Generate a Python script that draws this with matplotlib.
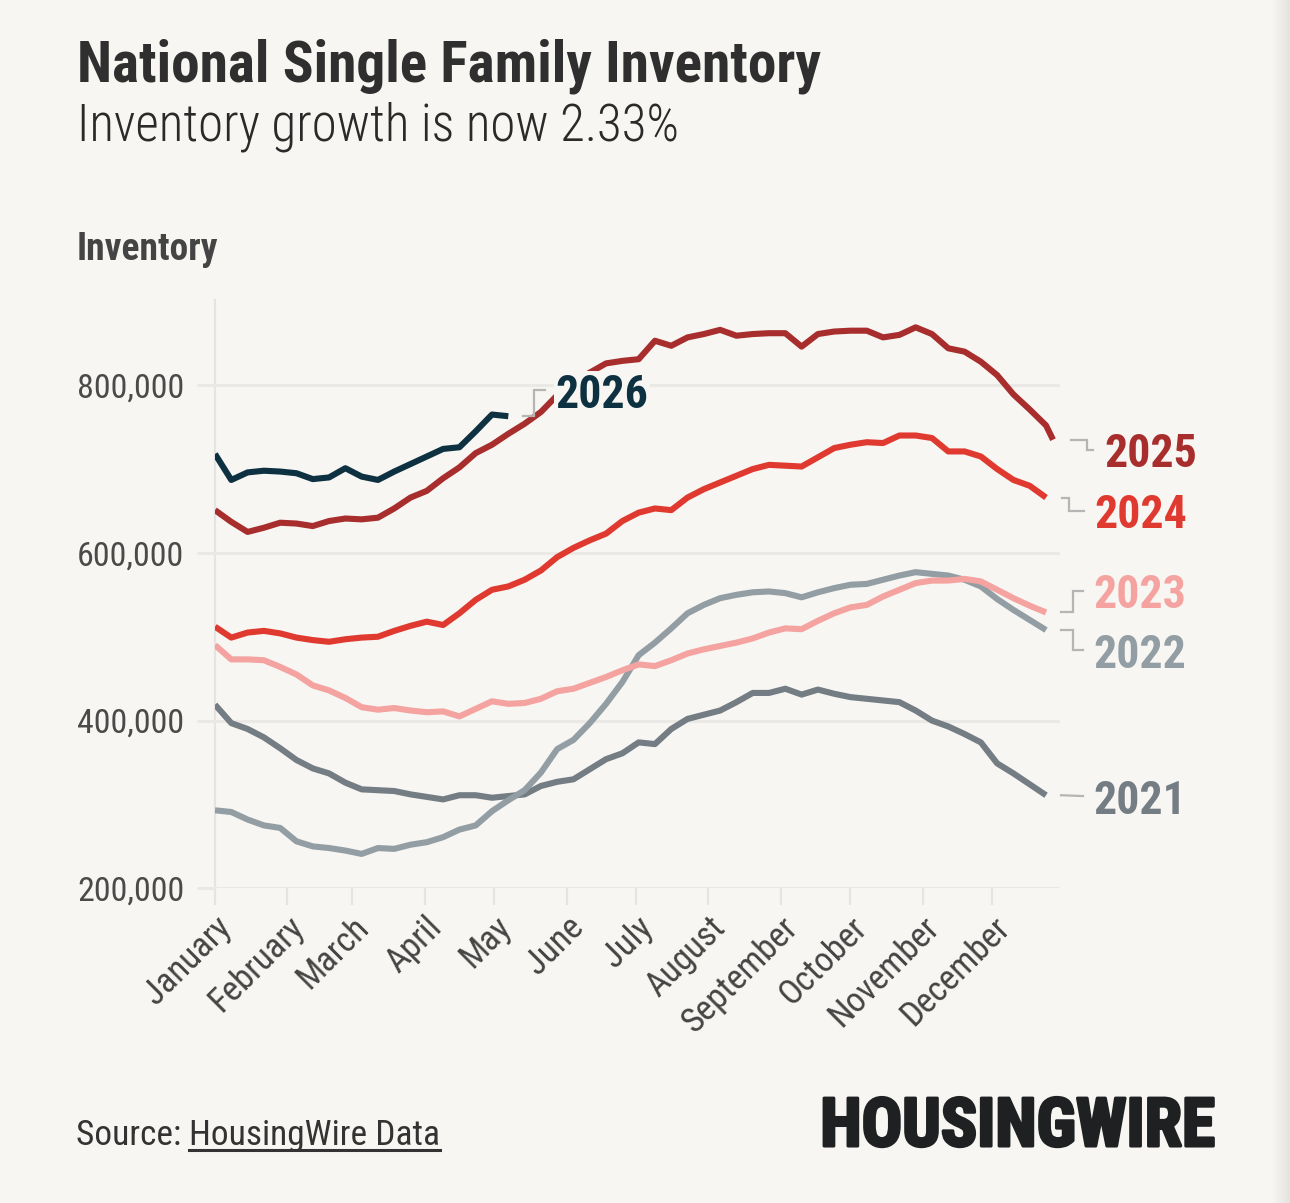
import numpy as np
import matplotlib
matplotlib.use("Agg")
import matplotlib.pyplot as plt
import matplotlib.patheffects as pe
from matplotlib import font_manager as fm

# ---------------- data (thousands of homes, weekly) ----------------
years = ["2021", "2022", "2023", "2024", "2025", "2026"]
week_days = [7 * i for i in range(52)]            # day-of-year of weekly points
days_2025 = week_days + [360]

inv_2021 = [419, 397, 390, 380, 367, 353, 343, 337, 326, 318, 317, 316, 312, 309, 306, 311,
            311, 308, 310, 312, 322, 327, 330, 342, 354, 361, 374, 372, 390, 402, 407, 412,
            422, 433, 433, 438, 431, 437, 432, 428, 426, 424, 422, 412, 400, 393, 384, 374,
            349, 337, 324, 311]
inv_2022 = [293, 291, 282, 275, 272, 256, 250, 248, 245, 241, 248, 247, 252, 255, 261, 270,
            275, 292, 305, 317, 338, 366, 377, 397, 420, 446, 478, 493, 510, 528, 538, 546,
            550, 553, 554, 552, 547, 553, 558, 562, 563, 568, 573, 577, 575, 573, 568, 560,
            545, 532, 520, 508]
inv_2023 = [490, 473, 473, 472, 464, 455, 442, 436, 427, 416, 413, 415, 412, 410, 411, 405,
            414, 423, 420, 421, 426, 435, 438, 445, 452, 460, 467, 465, 472, 480, 485, 489,
            493, 498, 505, 510, 509, 519, 528, 535, 538, 548, 556, 564, 567, 567, 569, 566,
            556, 546, 537, 529]
inv_2024 = [512, 499, 505, 507, 504, 499, 496, 494, 497, 499, 500, 507, 513, 518, 514, 528,
            544, 556, 560, 568, 579, 595, 606, 615, 623, 638, 648, 653, 651, 666, 676, 684,
            692, 700, 705, 704, 703, 714, 725, 729, 732, 731, 740, 740, 737, 721, 721, 715,
            700, 687, 680, 666]
inv_2025 = [651, 637, 625, 630, 636, 635, 632, 638, 641, 640, 642, 653, 666, 674, 689, 702,
            719, 729, 742, 754, 768, 788, 803, 815, 826, 829, 831, 853, 847, 857, 861, 866,
            859, 861, 862, 862, 846, 861, 864, 865, 865, 857, 860, 869, 861, 844, 840, 828,
            812, 789, 771, 752, 735]
inv_2026 = [718, 687, 696, 698, 697, 695, 688, 690, 701, 691, 687, 697, 706, 715, 724, 726,
            745, 765, 763]

month_names = ["January", "February", "March", "April", "May", "June", "July", "August",
               "September", "October", "November", "December"]
month_days = [31, 28, 31, 30, 31, 30, 31, 31, 30, 31, 30, 31]
y_ticks = [200000, 400000, 600000, 800000]

# ---------------- style ----------------
BG = "#f7f6f2"
colors = {"2021": "#747d83", "2022": "#929ea3", "2023": "#f4a3a0",
          "2024": "#e03a30", "2025": "#a82e2e", "2026": "#0e3142"}
# label vertical positions (data units)
label_y = {"2021": 310000, "2022": 484000, "2023": 555000, "2024": 650000,
           "2025": 723000, "2026": 794000}

names = {f.name for f in fm.fontManager.ttflist}
FONT = "Roboto Condensed" if "Roboto Condensed" in names else "Roboto"
plt.rcParams["font.family"] = [FONT, "DejaVu Sans"]

W, H = 1290, 1203
fig = plt.figure(figsize=(W / 100, H / 100), dpi=100)
fig.patch.set_facecolor(BG)

ax_l, ax_r, ax_b, ax_t = 215, 1060, 888.3, 300
ax = fig.add_axes([ax_l / W, 1 - ax_b / H, (ax_r - ax_l) / W, (ax_b - ax_t) / H])
ax.set_facecolor(BG)

series = {"2021": (week_days, inv_2021), "2022": (week_days, inv_2022),
          "2023": (week_days, inv_2023), "2024": (week_days, inv_2024),
          "2025": (days_2025, inv_2025), "2026": (week_days[:len(inv_2026)], inv_2026)}

for yr in years:
    xs, vs = series[yr]
    ax.plot(xs, np.array(vs) * 1000, color=colors[yr], lw=4.4, solid_capstyle="butt",
            solid_joinstyle="round", zorder=3)

ax.set_xlim(0, 363)
ax.set_ylim(200000, 901600)

month_starts = np.concatenate([[0], np.cumsum(month_days)[:-1]])
ax.set_xticks(month_starts)
ax.set_xticklabels(month_names, rotation=45, ha="right", va="top",
                   rotation_mode="anchor", fontsize=25, color="#444444")
ax.set_yticks(y_ticks)
ax.set_yticklabels([f"{v:,}" for v in y_ticks], fontsize=24.5, color="#4a4a4a")
ax.tick_params(axis="x", length=12, width=1.6, color="#e6e4e0", pad=4)
ax.tick_params(axis="y", length=13, width=2.2, color="#ebe9e5", pad=9)
ax.yaxis.grid(True, color="#ebe9e5", lw=2.2, zorder=0)
for s in ["top", "right", "bottom"]:
    ax.spines[s].set_visible(False)
ax.spines["left"].set_color("#e6e4e0")
ax.spines["left"].set_linewidth(1.6)
ax.spines["left"].set_zorder(1)

# ---------------- end labels with elbow connectors ----------------
fig.canvas.draw()
to_disp = ax.transData.transform
inv_fig = fig.transFigure.inverted()


def px_to_fig(px, py):
    return inv_fig.transform((px, py))


def draw_label(yr, start_gap, elbow, end_x, text_x):
    xs, vs = series[yr]
    ex, ey = to_disp((xs[-1], vs[-1] * 1000))
    _, ly = to_disp((xs[-1], label_y[yr]))
    pts = [(ex + start_gap, ey)]
    if abs(ly - ey) > 3:
        pts += [(ex + elbow, ey), (ex + elbow, ly)]
    pts += [(ex + end_x, ly)]
    fpts = [px_to_fig(*p) for p in pts]
    fig.lines.append(plt.Line2D([p[0] for p in fpts], [p[1] for p in fpts],
                                transform=fig.transFigure, color="#b5b5b5", lw=1.6,
                                solid_joinstyle="miter"))
    tx, ty = px_to_fig(ex + text_x, ly)
    fig.text(tx, ty, yr, color=colors[yr], fontsize=33, fontweight="bold",
             ha="left", va="center_baseline", zorder=5,
             bbox=dict(boxstyle="square,pad=0.03", fc=BG, ec="none"))


draw_label("2025", 18, 34, 40, 51)
draw_label("2024", 16, 23, 38, 48)
draw_label("2023", 15, 27, 37, 47)
draw_label("2022", 15, 27, 37, 47)
draw_label("2021", 15, 27, 37, 47)
draw_label("2026", 15, 26, 37, 47)

# ---------------- titles and footer ----------------
fig.text(77 / W, 1 - 82 / H, "National Single Family Inventory", fontsize=41.3,
         fontweight="bold", color="#2f2f2f", ha="left", va="baseline")
fig.text(77 / W, 1 - 141 / H, "Inventory growth is now 2.33%", fontsize=36.6,
         fontweight="light", color="#2a2a2a", ha="left", va="baseline")
fig.text(77 / W, 1 - 260 / H, "Inventory", fontsize=27, fontweight="bold",
         color="#444444", ha="left", va="baseline")
src = fig.text(76 / W, 1 - 1145 / H, "Source: ", fontsize=25.5, color="#333333",
               ha="left", va="baseline")
fig.canvas.draw()
bb = src.get_window_extent()
link = fig.text(bb.x1 / W, 1 - 1145 / H, "HousingWire Data", fontsize=25.5,
                color="#333333", ha="left", va="baseline")
fig.canvas.draw()
lb = link.get_window_extent()
fig.lines.append(plt.Line2D([lb.x0 / W, lb.x1 / W], [1 - 1149.5 / H, 1 - 1149.5 / H],
                            transform=fig.transFigure, color="#333333", lw=2.2))
fig.text(1215 / W, 1 - 1146 / H, "HOUSINGWIRE", fontsize=48.5, fontweight="black",
         color="#1e2022", ha="right", va="baseline",
         path_effects=[pe.withStroke(linewidth=2.2, foreground="#1e2022")])

# subtle shadow at right edge
grad = fig.add_axes([1272 / W, 0, 18 / W, 1])
grad.imshow(np.linspace(0, 1, 50)[None, :], aspect="auto",
            cmap=matplotlib.colors.LinearSegmentedColormap.from_list("g", [BG, "#e4e3df"]))
grad.axis("off")

fig.savefig("out.png", dpi=100, facecolor=BG)
